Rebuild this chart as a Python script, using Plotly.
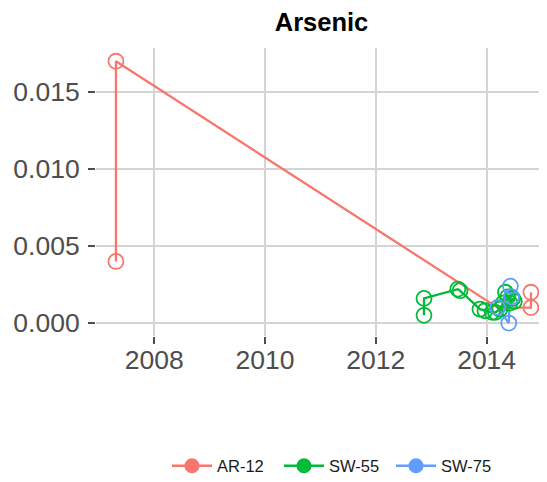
import plotly.graph_objects as go

# ---- data ----
series_names = ["AR-12", "SW-55", "SW-75"]
series_colors = ["#F8766D", "#00BA38", "#619CFF"]

ar12_dates = [2007.31, 2007.31, 2014.20, 2014.80, 2014.80]
ar12_values = [0.0040, 0.0170, 0.0010, 0.0010, 0.0020]

sw55_dates = [2012.87, 2012.87, 2013.48, 2013.52, 2013.88, 2013.97, 2014.10,
              2014.16, 2014.24, 2014.30, 2014.34, 2014.38, 2014.42, 2014.47, 2014.50]
sw55_values = [0.0005, 0.0016, 0.0022, 0.0021, 0.0009, 0.0008, 0.0007,
               0.0007, 0.0009, 0.0013, 0.0020, 0.0017, 0.0013, 0.0016, 0.0014]

sw75_dates = [2014.20, 2014.40, 2014.43, 2014.45]
sw75_values = [0.0010, 0.0000, 0.0024, 0.0017]

x_tick_vals = [2008, 2010, 2012, 2014]
x_tick_text = ["2008", "2010", "2012", "2014"]
y_tick_vals = [0.000, 0.005, 0.010, 0.015]
y_tick_text = ["0.000", "0.005", "0.010", "0.015"]

title_text = "Arsenic"

series = [(ar12_dates, ar12_values), (sw55_dates, sw55_values), (sw75_dates, sw75_values)]

fig = go.Figure()
FONT = "Liberation Sans, Arial, Helvetica, sans-serif"

# lines first (like geom_line), then points
for (xs, ys), name, col in zip(series, series_names, series_colors):
    fig.add_trace(go.Scatter(x=xs, y=ys, mode="lines", line=dict(color=col, width=2.3),
                             showlegend=False, hoverinfo="skip"))
for (xs, ys), name, col in zip(series, series_names, series_colors):
    fig.add_trace(go.Scatter(x=xs, y=ys, mode="markers",
                             marker=dict(symbol="circle-open", size=15, color=col,
                                         line=dict(width=1.8, color=col)),
                             showlegend=False, name=name))
# legend entries (filled markers)
for name, col in zip(series_names, series_colors):
    fig.add_trace(go.Scatter(x=[None], y=[None], mode="lines+markers", name=name,
                             line=dict(color=col, width=2.5),
                             marker=dict(symbol="circle", size=15, color=col)))

# the page body adds an 8px offset, so the figure is 8px smaller than the window
W, H = 539, 474
grid = "#d4d4d4"
fig.update_layout(
    width=W, height=H,
    margin=dict(l=88, r=0, t=40, b=146, autoexpand=False),
    paper_bgcolor="white", plot_bgcolor="white",
    font=dict(family=FONT, color="#4d4d4d"),
    title=dict(text="<b>" + title_text + "</b>", x=0.5, xref="paper", y=1 - 14 / H,
               yref="container", xanchor="center", yanchor="middle",
               font=dict(size=25.5, color="black", family=FONT)),
    legend=dict(orientation="h", xref="container", yref="container",
                x=159 / W, xanchor="left", y=1 - 458 / H, yanchor="middle",
                font=dict(size=16.5, color="#1a1a1a", family=FONT),
                bgcolor="rgba(0,0,0,0)", entrywidth=57, itemwidth=40),
    showlegend=True,
)
fig.update_xaxes(range=[2006.95, 2015.09], tickvals=x_tick_vals, ticktext=x_tick_text,
                 showgrid=True, gridcolor=grid, gridwidth=2, zeroline=False,
                 ticks="outside", ticklen=7, tickwidth=2, tickcolor="#4d4d4d",
                 ticklabelstandoff=-7,
                 tickfont=dict(size=26.5, color="#4d4d4d", family=FONT), showline=False)
fig.update_yaxes(range=[-0.00084, 0.01786], tickvals=y_tick_vals, ticktext=y_tick_text,
                 showgrid=True, gridcolor=grid, gridwidth=2, zeroline=False,
                 ticks="outside", ticklen=7, tickwidth=2, tickcolor="#4d4d4d",
                 ticklabelstandoff=3,
                 tickfont=dict(size=26.5, color="#4d4d4d", family=FONT), showline=False)

fig.write_html("out.html")
